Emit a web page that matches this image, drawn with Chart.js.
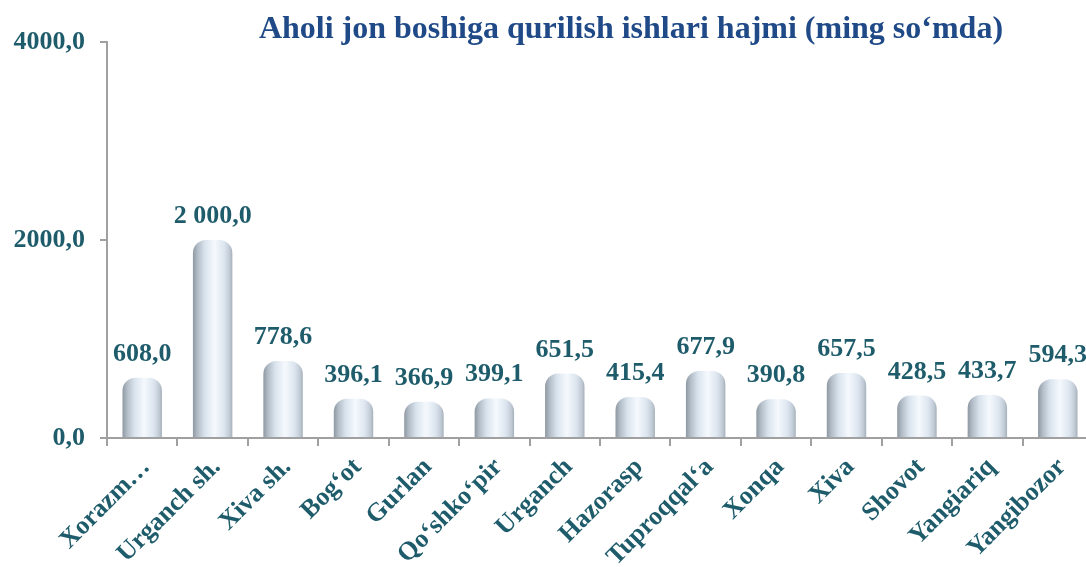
<!DOCTYPE html>
<html>
<head>
<meta charset="utf-8">
<script src="https://cdn.jsdelivr.net/npm/chart.js@4.4.0/dist/chart.umd.min.js"></script>
<style>
  html, body { margin: 0; padding: 0; background: #fff; overflow: hidden; }
  #wrap { width: 1100px; height: 567px; }
</style>
</head>
<body>
<div id="wrap"><canvas id="chart" width="1100" height="567"></canvas></div>
<script>
// Chart data
const categories = ['Xorazm…', 'Urganch sh.', 'Xiva sh.', 'Bog‘ot', 'Gurlan', 'Qo‘shko‘pir', 'Urganch',
    'Hazorasp', 'Tuproqqal‘a', 'Xonqa', 'Xiva', 'Shovot', 'Yangiariq', 'Yangibozor'];
const values = [608.0, 2000.0, 778.6, 396.1, 366.9, 399.1, 651.5, 415.4, 677.9, 390.8, 657.5, 428.5, 433.7, 594.3];
const yTicks = [0, 2000, 4000];
const titleText = 'Aholi jon boshiga qurilish ishlari hajmi (ming so‘mda)';

const labelColor = '#1f5c6b';
const titleColor = '#1f4a87';
const axisColor = '#a0a0a0';
const serif = "'Liberation Serif', 'Times New Roman', serif";

// 2000 -> "2 000,0"
function formatValue(v) {
    const parts = v.toFixed(1).split('.');
    const intPart = parts[0].replace(/\B(?=(\d{3})+(?!\d))/g, ' ');
    return intPart + ',' + parts[1];
}

function barGradient(context) {
    const chart = context.chart;
    if (!chart.chartArea || !chart.scales.x) return '#d8e2ec';
    const xScale = chart.scales.x;
    const cx = xScale.getPixelForValue(context.dataIndex);
    const w = (xScale.width / categories.length) * 0.56;
    const g = chart.ctx.createLinearGradient(cx - w / 2, 0, cx + w / 2, 0);
    g.addColorStop(0, '#8e98a2');
    g.addColorStop(0.12, '#b3bdc8');
    g.addColorStop(0.3, '#d9e3ed');
    g.addColorStop(0.55, '#f5f9fd');
    g.addColorStop(0.8, '#dbe4ee');
    g.addColorStop(0.93, '#c0cad5');
    g.addColorStop(1, '#a6b0bb');
    return g;
}

// Title drawn over the plot, centred as in the source slide
const titlePlugin = {
    id: 'slideTitle',
    afterDraw(chart) {
        const ctx = chart.ctx;
        ctx.save();
        ctx.font = 'bold 32px ' + serif;
        ctx.fillStyle = titleColor;
        ctx.textAlign = 'center';
        ctx.textBaseline = 'alphabetic';
        ctx.fillText(titleText, 631, 38);
        ctx.restore();
    }
};

// Value labels above bars
const valueLabels = {
    id: 'valueLabels',
    afterDatasetsDraw(chart) {
        const ctx = chart.ctx;
        const meta = chart.getDatasetMeta(0);
        ctx.save();
        ctx.font = 'bold 26px ' + serif;
        ctx.fillStyle = labelColor;
        ctx.textAlign = 'center';
        ctx.textBaseline = 'alphabetic';
        meta.data.forEach((bar, i) => {
            ctx.fillText(formatValue(values[i]), bar.x, bar.y - 17);
        });
        ctx.restore();
    }
};

new Chart(document.getElementById('chart'), {
    type: 'bar',
    data: {
        labels: categories,
        datasets: [{
            data: values,
            backgroundColor: barGradient,
            borderWidth: 0,
            borderRadius: { topLeft: 13, topRight: 13, bottomLeft: 0, bottomRight: 0 },
            borderSkipped: 'bottom',
            categoryPercentage: 0.56,
            barPercentage: 1.0
        }]
    },
    options: {
        responsive: false,
        animation: false,
        layout: { padding: { top: 42, right: 7, left: 0, bottom: 0 } },
        plugins: {
            legend: { display: false },
            title: { display: false },
            tooltip: { enabled: false }
        },
        scales: {
            x: {
                afterFit(scale) { scale.height = 129; },
                grid: {
                    offset: true,
                    drawOnChartArea: false,
                    drawTicks: true,
                    tickLength: 8,
                    color: axisColor,
                    lineWidth: 2
                },
                border: { display: true, color: axisColor, width: 2 },
                ticks: {
                    autoSkip: false,
                    maxRotation: 45,
                    minRotation: 45,
                    padding: 6,
                    labelOffset: 4,
                    color: labelColor,
                    font: { family: serif, size: 26, weight: 'bold' }
                }
            },
            y: {
                min: 0,
                max: 4000,
                afterFit(scale) { scale.width = 107; },
                afterBuildTicks(scale) {
                    scale.ticks = yTicks.map(v => ({ value: v }));
                },
                grid: {
                    drawOnChartArea: false,
                    drawTicks: true,
                    tickLength: 7,
                    color: axisColor,
                    lineWidth: 2
                },
                border: { display: true, color: axisColor, width: 2 },
                ticks: {
                    padding: 15,
                    color: labelColor,
                    font: { family: serif, size: 26, weight: 'bold' },
                    callback: v => v.toFixed(1).replace('.', ',')
                }
            }
        }
    },
    plugins: [valueLabels, titlePlugin]
});
</script>
</body>
</html>
